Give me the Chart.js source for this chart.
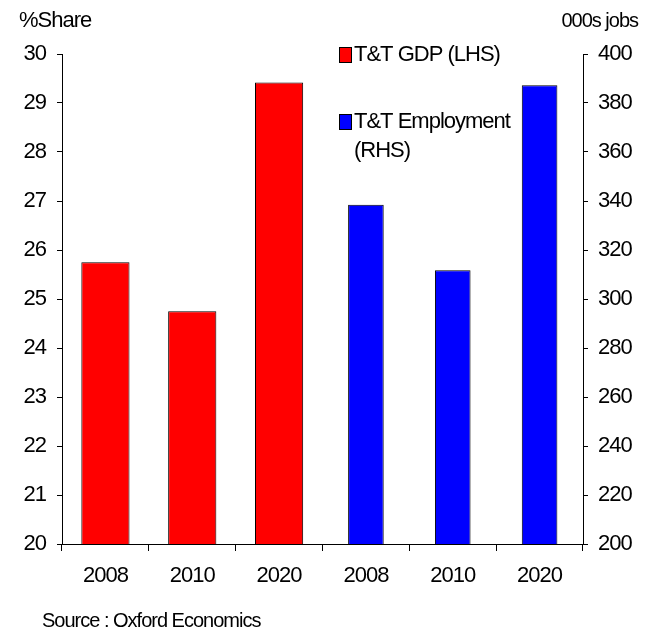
<!DOCTYPE html>
<html>
<head>
<meta charset="utf-8">
<script src="https://cdn.jsdelivr.net/npm/chart.js@4"></script>
<style>
html,body{margin:0;padding:0;background:#fff;}
#wrap{width:656px;height:633px;position:relative;}
</style>
</head>
<body>
<div id="wrap"><canvas id="c" width="656" height="633"></canvas></div>
<script>
const categories = ["2008", "2010", "2020", "2008", "2010", "2020"];
const gdpShare = [25.75, 24.75, 29.42, null, null, null];
const employment = [null, null, null, 338.5, 311.7, 387.2];
const leftTicks = [20, 21, 22, 23, 24, 25, 26, 27, 28, 29, 30];
const rightTicks = [200, 220, 240, 260, 280, 300, 320, 340, 360, 380, 400];
const seriesNames = ["T&T GDP (LHS)", ["T&T Employment", "(RHS)"]];
const leftTitle = "%Share";
const rightTitle = "000s jobs";
const sourceNote = "Source : Oxford Economics";

const FONT = "'Liberation Sans', Arial, sans-serif";

const textPlugin = {
  id: 'texts',
  beforeInit(chart) { chart.ctx.letterSpacing = '-1px'; },
  beforeUpdate(chart) { chart.ctx.letterSpacing = '-1px'; },
  beforeDraw(chart) { chart.ctx.letterSpacing = '-1px'; },
  afterDraw(chart) {
    const ctx = chart.ctx;
    ctx.save();
    ctx.letterSpacing = '-1px';
    ctx.fillStyle = '#000';
    ctx.textBaseline = 'middle';
    ctx.font = "22px " + FONT;
    ctx.textAlign = 'left';
    ctx.fillText(leftTitle, 19, 21);
    ctx.font = "20px " + FONT;
    ctx.textAlign = 'right';
    ctx.fillText(rightTitle, 638, 21);
    ctx.textAlign = 'left';
    ctx.fillText(sourceNote, 42, 621);
    // legend
    const items = [
      {color: '#ff0000', lines: [seriesNames[0]], y: 55},
      {color: '#0000ff', lines: seriesNames[1], y: 122}
    ];
    ctx.font = "22px " + FONT;
    items.forEach(it => {
      ctx.fillStyle = it.color;
      ctx.fillRect(339.5, it.y - 7.5, 12, 15);
      ctx.strokeStyle = '#000';
      ctx.lineWidth = 1;
      ctx.strokeRect(339.5, it.y - 7.5, 12, 15);
      ctx.fillStyle = '#000';
      it.lines.forEach((ln, i) => ctx.fillText(ln, 354, it.y + i * 29));
    });
    ctx.restore();
  }
};

const tickFont = {family: FONT, size: 22};

new Chart(document.getElementById('c'), {
  type: 'bar',
  data: {
    labels: categories,
    datasets: [
      {label: "T&T GDP (LHS)", data: gdpShare, yAxisID: 'yL', backgroundColor: '#ff0000',
       borderColor: '#000', borderWidth: 1, grouped: false, barPercentage: 0.555, categoryPercentage: 1},
      {label: "T&T Employment (RHS)", data: employment, yAxisID: 'yR', backgroundColor: '#0000ff',
       borderColor: '#000', borderWidth: 1, grouped: false, barPercentage: 0.41, categoryPercentage: 1}
    ]
  },
  options: {
    responsive: false,
    animation: false,
    devicePixelRatio: 1,
    layout: {padding: {top: 54, left: 0, right: 0, bottom: 0}},
    plugins: {legend: {display: false}, tooltip: {enabled: false}},
    scales: {
      x: {
        grid: {display: true, drawOnChartArea: false, drawTicks: true, tickLength: 7, color: '#000', offset: true},
        border: {display: true, color: '#000', width: 1},
        ticks: {font: tickFont, color: '#000', padding: 12, maxRotation: 0, autoSkip: false},
        afterFit(s) { s.height = 89; }
      },
      yL: {
        position: 'left', min: 20, max: 30,
        afterBuildTicks(s) { s.ticks = leftTicks.map(v => ({value: v})); },
        grid: {display: true, drawOnChartArea: false, tickLength: 5, color: '#000'},
        border: {display: true, color: '#000', width: 1},
        ticks: {font: tickFont, color: '#000', padding: 11},
        afterFit(s) { s.width = 62; }
      },
      yR: {
        position: 'right', min: 200, max: 400,
        afterBuildTicks(s) { s.ticks = rightTicks.map(v => ({value: v})); },
        grid: {display: true, drawOnChartArea: false, tickLength: 5, color: '#000'},
        border: {display: true, color: '#000', width: 1},
        ticks: {font: tickFont, color: '#000', padding: 10},
        afterFit(s) { s.width = 73; }
      }
    }
  },
  plugins: [textPlugin]
});
</script>
</body>
</html>
